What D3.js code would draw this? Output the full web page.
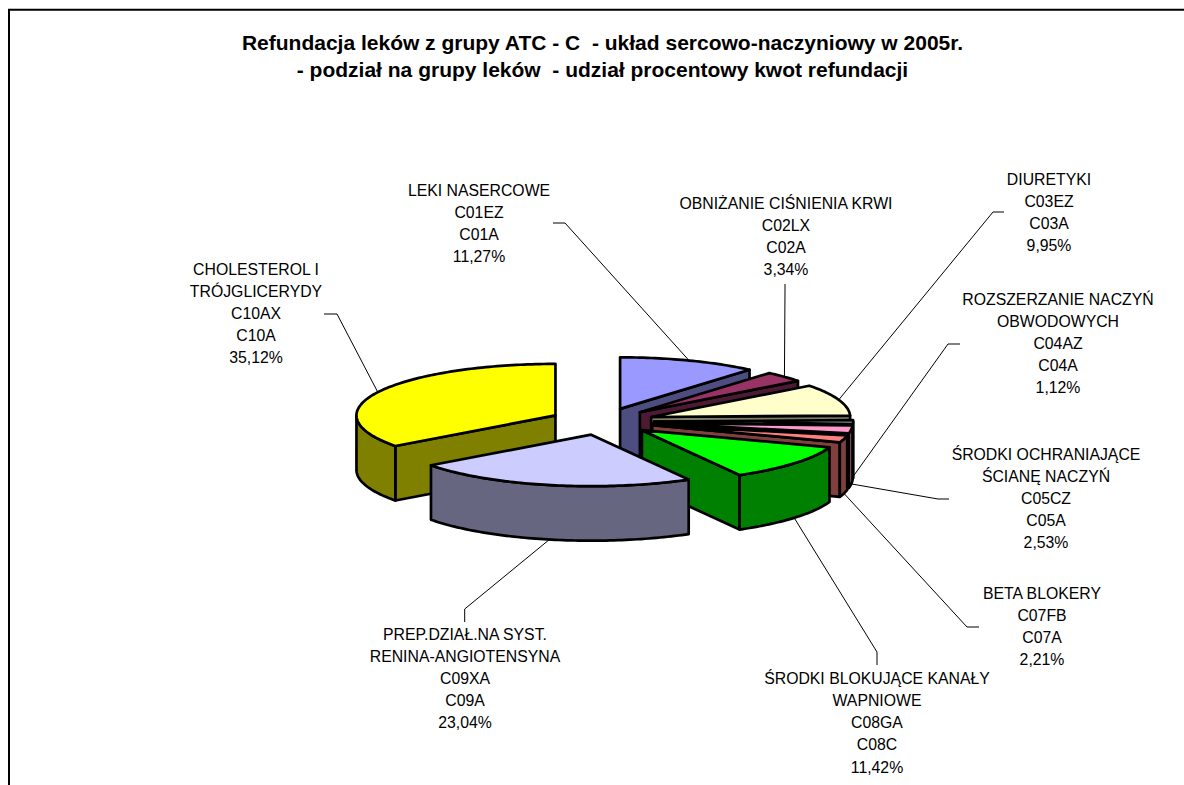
<!DOCTYPE html>
<html lang="pl">
<head>
<meta charset="utf-8">
<script src="https://cdn.jsdelivr.net/npm/d3@7"></script>
<style>
html,body{margin:0;padding:0;background:#fff;overflow:hidden}
svg{display:block}
text{font-family:"Liberation Sans",Arial,sans-serif;fill:#000}
</style>
</head>
<body>
<svg id="chart" width="1184" height="785"></svg>
<script>
// ---- data ----
const titleLines = [
  "Refundacja leków z grupy ATC - C  - układ sercowo-naczyniowy w 2005r.",
  "- podział na grupy leków  - udział procentowy kwot refundacji"
];
const codes  = ["C01","C02","C03","C04","C05","C07","C08","C09","C10"];
const values = [11.27,3.34,9.95,1.12,2.53,2.21,11.42,23.04,35.12];
const labels = [
  ["LEKI NASERCOWE","C01EZ","C01A","11,27%"],
  ["OBNIŻANIE CIŚNIENIA KRWI","C02LX","C02A","3,34%"],
  ["DIURETYKI","C03EZ","C03A","9,95%"],
  ["ROZSZERZANIE NACZYŃ","OBWODOWYCH","C04AZ","C04A","1,12%"],
  ["ŚRODKI OCHRANIAJĄCE","ŚCIANĘ NACZYŃ","C05CZ","C05A","2,53%"],
  ["BETA BLOKERY","C07FB","C07A","2,21%"],
  ["ŚRODKI BLOKUJĄCE KANAŁY","WAPNIOWE","C08GA","C08C","11,42%"],
  ["PREP.DZIAŁ.NA SYST.","RENINA-ANGIOTENSYNA","C09XA","C09A","23,04%"],
  ["CHOLESTEROL I","TRÓJGLICERYDY","C10AX","C10A","35,12%"]
];

// ---- styles and layout ----
const topColors  = ["#9999FF","#993366","#FFFFCC","#CCFFFF","#FF99CC","#FF8080","#00FF00","#CCCCFF","#FFFF00"];
const sideColors = ["#4D4D80","#4D1A33","#808066","#668080","#804D66","#804040","#008000","#666680","#808000"];
const drawOrder  = ["C10","C01","C02","C03","C04","C05","C07","C08","C09"];
const labelPos = {          // text centre x, first baseline y
  C01:[479,195.5], C02:[786,208.5], C03:[1049,184.5], C04:[1058,304.5], C05:[1046,459.5],
  C07:[1042,598.5], C08:[877,684], C09:[465,639.5], C10:[256,274.5]
};
const leaderPts = {         // outer end and elbow of each leader
  C01:[[553,223],[565,223]], C02:[[785,284],[785,290]], C03:[[1004,212],[993,212]],
  C04:[[960,344],[948,344]], C05:[[949,499],[938,499]], C07:[[979,627],[967,627]],
  C08:[[877,665],[877,652]], C09:[[464.7,622],[464.7,609]], C10:[[324,314],[337,314]]
};
const cx = 602, cy = 421.5, rx = 199, ry = 51.5, depth = 54.5, explode = 0.262;
const lineGap = 22.15, labelSize = 15.8, titleSize = 21;

const svg = d3.select("#chart");

// frame: left and top only, running off the page
svg.append("path")
  .attr("d","M9,790V9.7H1190")
  .attr("fill","none").attr("stroke","#000").attr("stroke-width",2);

// title
svg.append("g").selectAll("text").data(titleLines).join("text")
  .attr("x",602.5).attr("y",(d,i)=>50+i*26.5)
  .attr("text-anchor","middle").attr("font-weight","bold").attr("font-size",titleSize)
  .style("white-space","pre").text(d=>d);

// pie geometry
const slices = d3.pie().sort(null).startAngle(0).endAngle(2*Math.PI)(values)
  .map((s,i)=>({...s,code:codes[i],i,label:labels[i],mid:(s.startAngle+s.endAngle)/2}));
const byCode = new Map(slices.map(s=>[s.code,s]));

const sx = d3.scaleLinear().domain([-1,1]).range([cx-rx,cx+rx]);
const sy = d3.scaleLinear().domain([-1,1]).range([cy-ry,cy+ry]);   // +1 = toward the viewer

const apex  = s => [sx(Math.sin(s.mid)*explode), sy(-Math.cos(s.mid)*explode)];
const rim   = (s,a,h=0) => {
  const [ax,ay] = apex(s);
  return [ax+Math.sin(a)*rx, ay-Math.cos(a)*ry+h];
};
const arcPts = (s,a0,a1,h=0) => {
  const n = Math.max(2,Math.ceil((a1-a0)/0.02));
  return d3.range(n+1).map(k=>rim(s,a0+(a1-a0)*k/n,h));
};
const poly = d3.line().curve(d3.curveLinearClosed);

const pieG = svg.append("g")
  .attr("stroke","#000").attr("stroke-width",2.7).attr("stroke-linejoin","round");

function radialWall(g,s,a,fill){
  const [ax,ay] = apex(s), p = rim(s,a);
  g.append("path").attr("fill",fill)
    .attr("d",poly([[ax,ay],p,[p[0],p[1]+depth],[ax,ay+depth]]));
}
drawOrder.forEach(code=>{
  const s = byCode.get(code), g = pieG.append("g").attr("class","slice-"+code);
  const side = sideColors[s.i], a0 = s.startAngle, a1 = s.endAngle;
  if (Math.sin(a0) < -1e-6) radialWall(g,s,a0,side);
  if (Math.sin(a1) >  1e-6) radialWall(g,s,a1,side);
  const w0 = Math.max(a0,Math.PI/2), w1 = Math.min(a1,3*Math.PI/2);
  if (w1 > w0) {
    g.append("path").attr("fill",side)
      .attr("d",poly([...arcPts(s,w0,w1),...arcPts(s,w0,w1,depth).reverse()]));
  }
  g.append("path").attr("fill",topColors[s.i])
    .attr("d",poly([apex(s),...arcPts(s,a0,a1)]));
});

// leader lines
const leaderLine = d3.line();
svg.append("g").attr("fill","none").attr("stroke","#000").attr("stroke-width",1)
  .selectAll("path").data(slices).join("path")
  .attr("d",s=>{
    const front = Math.cos(s.mid) < 0.02;
    return leaderLine([...leaderPts[s.code],rim(s,s.mid,front?depth:0)]);
  });

// labels
const lab = svg.append("g").attr("font-size",labelSize).attr("text-anchor","middle");
slices.forEach(s=>{
  const [x,y] = labelPos[s.code];
  lab.append("g").selectAll("text").data(s.label).join("text")
    .attr("x",x).attr("y",(d,i)=>y+i*lineGap).text(d=>d);
});
</script>
</body>
</html>
